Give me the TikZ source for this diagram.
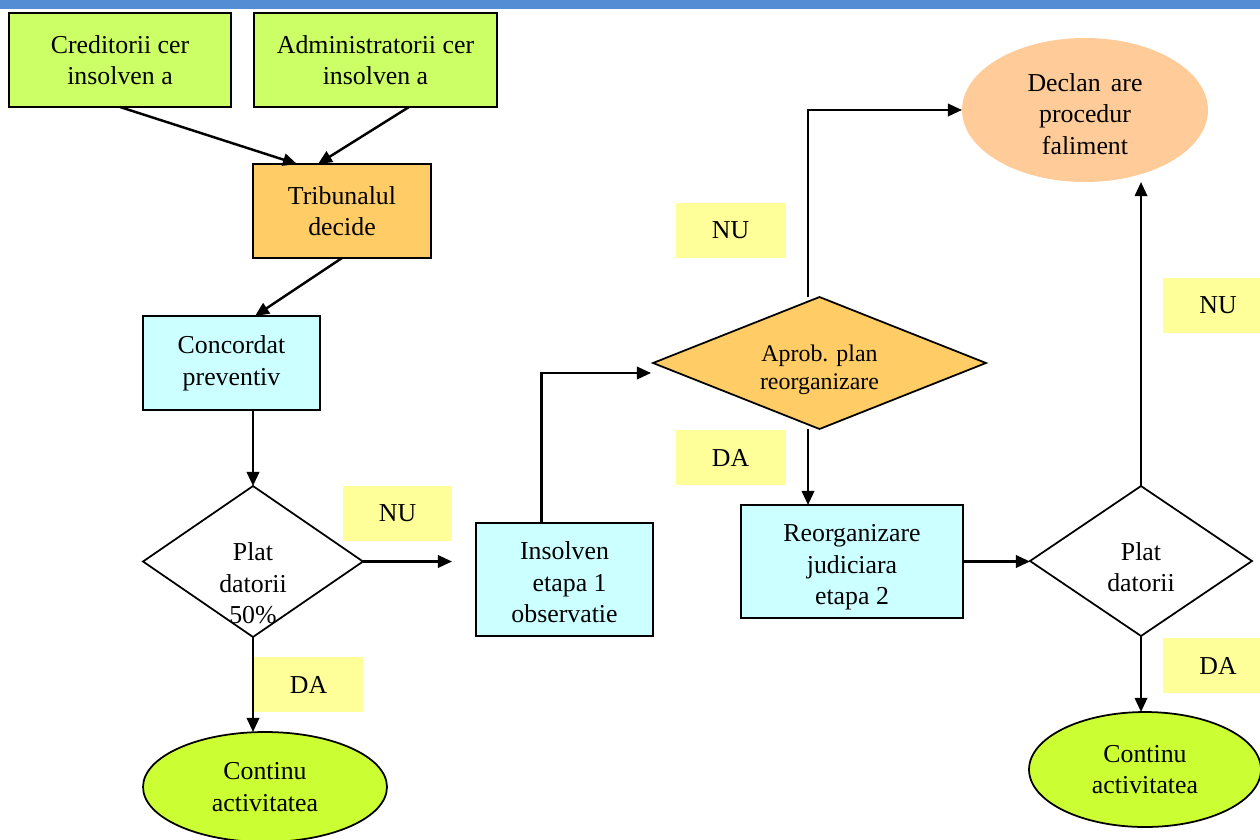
\documentclass[tikz,border=0pt]{standalone}
\usepackage{fontspec}
\setmainfont{Liberation Serif}
\usetikzlibrary{shapes.geometric,arrows.meta,calc}

\definecolor{barblue}{RGB}{84,141,212}
\definecolor{boxgreen}{RGB}{204,255,102}
\definecolor{ovalgreen}{RGB}{204,255,51}
\definecolor{boxorange}{RGB}{255,204,102}
\definecolor{boxcyan}{RGB}{204,255,255}
\definecolor{tagyellow}{RGB}{255,255,153}
\definecolor{ovalpeach}{RGB}{255,204,153}

\newcommand\diagfont{\fontsize{14.7}{18}\selectfont}
\newcommand\smallfont{\fontsize{13.6}{16}\selectfont}

\tikzset{
  base/.style={align=center, inner sep=0pt, outer sep=0pt, font=\diagfont},
  rectbox/.style={base, draw=black, line width=1.2pt, rectangle},
  decision/.style={base, draw=black, line width=1pt, diamond},
  oval/.style={base, ellipse},
  tag/.style={base, fill=tagyellow, minimum width=2.2cm, minimum height=1.1cm},
  txt/.style={base},
  arr/.style={-{Triangle[length=8pt,width=7pt]}, line width=1.4pt}
}

\begin{document}
\begin{tikzpicture}[x=0.02cm,y=-0.02cm]
  \useasboundingbox (0,0) rectangle (1260,839);
  \clip (0,0) rectangle (1260,839);
  \fill[white] (0,0) rectangle (1260,839);
  \fill[barblue] (0,0) rectangle (1260,9);

  % requests
  \node[rectbox, fill=boxgreen, minimum width=4.44cm, minimum height=1.88cm] (cred) at (120,60) {Creditorii cer\\insolven a};
  \node[rectbox, fill=boxgreen, minimum width=4.86cm, minimum height=1.88cm] (admin) at (375.5,60) {Administratorii cer\\insolven a};

  % court
  \node[rectbox, fill=boxorange, minimum width=3.56cm, minimum height=1.88cm] (trib) at (342,211) {Tribunalul\\decide};
  \node[rectbox, fill=boxcyan, minimum width=3.54cm, minimum height=1.88cm] (conc) at (231.5,363) {Concordat\\preventiv};

  % first decision
  \node[decision, fill=white, minimum width=4.4cm, minimum height=3.02cm] (d1) at (253,561.5) {};
  \node[txt] (d1txt) at ([yshift=-0.44cm]d1.center) {Plat\\datorii\\50\%};
  \node[tag] (nu1) at (397.5,513.5) {NU};
  \node[tag] (da1) at (308.5,684.5) {DA};
  \node[oval, draw=black, line width=1pt, fill=ovalgreen, minimum width=4.88cm, minimum height=2.2cm] (cont1) at (265,787) {Continu\\activitatea};

  % observation stage
  \node[rectbox, fill=boxcyan, minimum width=3.54cm, minimum height=2.26cm] (insolv) at (564.5,579.5) {};
  \node[txt] (insolvtxt) at ([yshift=-0.06cm]insolv.center) {Insolven\hspace{0.6em}\\\hspace{0.4em}etapa 1\\observatie};

  % reorganisation plan
  \node[decision, fill=boxorange, minimum width=6.66cm, minimum height=2.64cm] (aprob) at (819.5,363) {};
  \node[txt, font=\smallfont] (aprobtxt) at ([yshift=-0.14cm]aprob.center) {Aprob. plan\\reorganizare};
  \node[tag] (nu2) at (730.5,230.5) {NU};
  \node[tag] (da2) at (730.5,457.5) {DA};
  \node[rectbox, fill=boxcyan, minimum width=4.44cm, minimum height=2.26cm] (reorg) at (852,561.5) {};
  \node[txt] (reorgtxt) at ([yshift=-0.12cm]reorg.center) {Reorganizare\\judiciara\\etapa 2};

  % second decision
  \node[decision, fill=white, minimum width=4.44cm, minimum height=3.0cm] (d2) at (1141,561) {};
  \node[txt] (d2txt) at ([yshift=-0.12cm]d2.center) {Plat\\datorii};
  \node[tag] (nu3) at (1218,305.5) {NU};
  \node[tag] (da3) at (1218,665.5) {DA};
  \node[oval, draw=black, line width=1pt, fill=ovalgreen, minimum width=4.64cm, minimum height=2.3cm] (cont2) at (1145,769.5) {Continu\\activitatea};

  % bankruptcy
  \node[oval, fill=ovalpeach, minimum width=4.92cm, minimum height=2.88cm] (decl) at (1085,110) {};
  \node[txt] (decltxt) at ([yshift=-0.08cm]decl.center) {Declan\hspace{0.15em} are\\procedur\hspace{0.5em}\\faliment};

  % connectors
  \draw[arr] (cred.south) -- ([xshift=-0.9cm]trib.north);
  \draw[arr] ([xshift=0.67cm]admin.south) -- ([xshift=-0.48cm]trib.north);
  \draw[arr] (trib.south) -- ([xshift=0.47cm]conc.north);
  \draw[arr] (d1.north |- conc.south) -- (d1.north);
  \draw[arr, shorten >=0.48cm] (d1.east) -- (d1.east -| insolv.west);
  \draw[arr] (d1.south) -- (d1.south |- cont1.north);

  \coordinate (insolvN) at ([xshift=-0.46cm]insolv.north);
  \coordinate (aprobIn) at ([shift={(-0.04cm,-0.2cm)}]aprob.west);
  \draw[arr] (insolvN) |- (aprobIn);

  \coordinate (aprobN) at ([xshift=-0.23cm]aprob.north);
  \coordinate (aprobS) at ([xshift=-0.23cm]aprob.south);
  \draw[arr] (aprobN) |- (decl.west);
  \draw[arr] (aprobS) -- (aprobS |- reorg.north);

  \draw[arr] (reorg.east) -- (reorg.east -| d2.west);
  \draw[arr] (d2.north) -- (d2.north |- decl.south);
  \draw[arr] (d2.south) -- (d2.south |- cont2.north);
\end{tikzpicture}
\end{document}
